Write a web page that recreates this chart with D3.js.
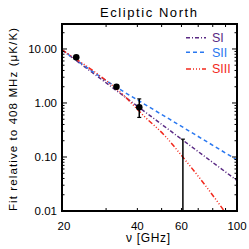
<!DOCTYPE html>
<html><head><meta charset="utf-8">
<script src="https://cdn.jsdelivr.net/npm/d3@7"></script>
<style>body{margin:0;background:#fff}text{font-family:"Liberation Sans",Arial,sans-serif}</style>
</head><body><svg id="c" width="249" height="249"></svg>
<script>
// ---- data ----
const freqSI   = [20, 40, 60, 100];
const valSI    = [9.58, 0.873, 0.214, 0.0367];
const freqSII  = [20, 34.1, 40, 54, 100];
const valSII   = [9.58, 1.78, 1.14, 0.495, 0.088];
const freqSIII = [20, 28.4, 34.1, 42.9, 51.6, 60.3, 74.5, 87.1, 90];
const valSIII  = [9.58, 3.16, 1.60, 0.55, 0.245, 0.104, 0.0303, 0.0114, 0.0092];
const dataFreq = [22.8, 33.0, 40.7];
const dataVal  = [7.0, 2.0, 0.83];
const dataLo   = [7.0, 2.0, 0.54];
const dataHi   = [7.0, 2.0, 1.19];
const limFreq  = [60.8];
const limVal   = [0.214];
const xTickVals  = [20, 40, 60, 100];
const xTickLbls  = ["20", "40", "60", "100"];
const xMinorVals = [30, 50, 70, 80, 90];
const yTickVals  = [10, 1, 0.1, 0.01];
const yTickLbls  = ["10.00", "1.00", "0.10", "0.01"];
const seriesNames  = ["SI", "SII", "SIII"];
const seriesColors = ["#5a2a84", "#2a78f0", "#f2281c"];
const seriesDash   = ["4,2,1,2", "4,3", "5,2,1,2,1,2,1,2"];

const svg = d3.select("#c");
const L = 62, R = 237, T = 24, B = 211;
const x = d3.scaleLog().domain([20, 100]).range([L, R]);
const y = d3.scaleLog().domain([0.01, 29]).range([B, T]);

svg.append("defs").append("clipPath").attr("id", "clip")
  .append("rect").attr("x", L).attr("y", T).attr("width", R - L).attr("height", B - T);

const g = svg.append("g").attr("clip-path", "url(#clip)");
const series = [[freqSI, valSI], [freqSII, valSII], [freqSIII, valSIII]];
series.forEach(([f, v], i) => {
  const pts = f.map((d, j) => [x(d), y(v[j])]);
  g.append("path").attr("d", d3.line().curve(i === 0 ? d3.curveLinear : d3.curveMonotoneX)(pts))
    .attr("fill", "none").attr("stroke", seriesColors[i]).attr("stroke-width", 1.5)
    .attr("stroke-dasharray", seriesDash[i]);
});

// upper limit
limFreq.forEach((f, i) => {
  g.append("line").attr("x1", x(f)).attr("x2", x(f)).attr("y1", B).attr("y2", y(limVal[i]))
    .attr("stroke", "#000").attr("stroke-width", 1.5);
  g.append("line").attr("x1", x(f) - 2).attr("x2", x(f) + 2).attr("y1", y(limVal[i])).attr("y2", y(limVal[i]))
    .attr("stroke", "#000").attr("stroke-width", 1.2);
});

// data points with error bars
dataFreq.forEach((f, i) => {
  if (dataHi[i] !== dataLo[i]) {
    g.append("line").attr("x1", x(f)).attr("x2", x(f)).attr("y1", y(dataLo[i])).attr("y2", y(dataHi[i]))
      .attr("stroke", "#000").attr("stroke-width", 1.5);
    [dataLo[i], dataHi[i]].forEach(v => g.append("line").attr("x1", x(f) - 2).attr("x2", x(f) + 2)
      .attr("y1", y(v)).attr("y2", y(v)).attr("stroke", "#000").attr("stroke-width", 1.2));
  }
  g.append("circle").attr("cx", x(f)).attr("cy", y(dataVal[i])).attr("r", 3.3).attr("fill", "#000");
});

// frame
svg.append("rect").attr("x", L).attr("y", T).attr("width", R - L).attr("height", B - T)
  .attr("fill", "none").attr("stroke", "#000").attr("stroke-width", 2);

// x ticks (bottom & top, inward)
xTickVals.concat(xMinorVals).forEach(v => {
  const len = 3;
  svg.append("line").attr("x1", x(v)).attr("x2", x(v)).attr("y1", B).attr("y2", B - len).attr("stroke", "#000");
  svg.append("line").attr("x1", x(v)).attr("x2", x(v)).attr("y1", T).attr("y2", T + len).attr("stroke", "#000");
});
xTickVals.forEach((v, i) => svg.append("text").attr("x", x(v) + (i === 0 ? 2 : 0)).attr("y", 230)
  .attr("text-anchor", "middle").attr("font-size", 11.5).text(xTickLbls[i]));

// y ticks
const yMinor = [];
[0.01, 0.1, 1, 10].forEach(d => { for (let k = 2; k <= 9; k++) if (d * k <= 29) yMinor.push(d * k); });
yTickVals.forEach((v, i) => {
  svg.append("line").attr("x1", L).attr("x2", L + 5).attr("y1", y(v)).attr("y2", y(v)).attr("stroke", "#000");
  svg.append("line").attr("x1", R).attr("x2", R - 5).attr("y1", y(v)).attr("y2", y(v)).attr("stroke", "#000");
  svg.append("text").attr("x", 57).attr("y", y(v) + 4).attr("text-anchor", "end").attr("font-size", 11.5).text(yTickLbls[i]);
});
yMinor.forEach(v => {
  svg.append("line").attr("x1", L).attr("x2", L + 2.5).attr("y1", y(v)).attr("y2", y(v)).attr("stroke", "#000");
  svg.append("line").attr("x1", R).attr("x2", R - 2.5).attr("y1", y(v)).attr("y2", y(v)).attr("stroke", "#000");
});

// titles
svg.append("text").attr("x", 148.5).attr("y", 17).attr("text-anchor", "middle").attr("font-size", 13)
  .attr("textLength", 97).attr("lengthAdjust", "spacing").text("Ecliptic North");
svg.append("text").attr("x", 148).attr("y", 242).attr("text-anchor", "middle").attr("font-size", 12)
  .attr("textLength", 44).attr("lengthAdjust", "spacing").text("\u03bd [GHz]");
svg.append("text").attr("transform", "translate(17,119.5) rotate(-90)").attr("text-anchor", "middle")
  .attr("font-size", 11.5).attr("textLength", 183).attr("lengthAdjust", "spacing")
  .text("Fit relative to 408 MHz (\u03bcK/K)");

// legend
const legY = [37.7, 52.3, 69];
seriesNames.forEach((n, i) => {
  svg.append("line").attr("x1", 186).attr("x2", 206).attr("y1", legY[i]).attr("y2", legY[i])
    .attr("stroke", seriesColors[i]).attr("stroke-width", 1.5).attr("stroke-dasharray", seriesDash[i]);
  svg.append("text").attr("x", 212).attr("y", legY[i] + 4.3).attr("font-size", 12.5)
    .attr("fill", seriesColors[i]).text(n);
});
</script></body></html>
